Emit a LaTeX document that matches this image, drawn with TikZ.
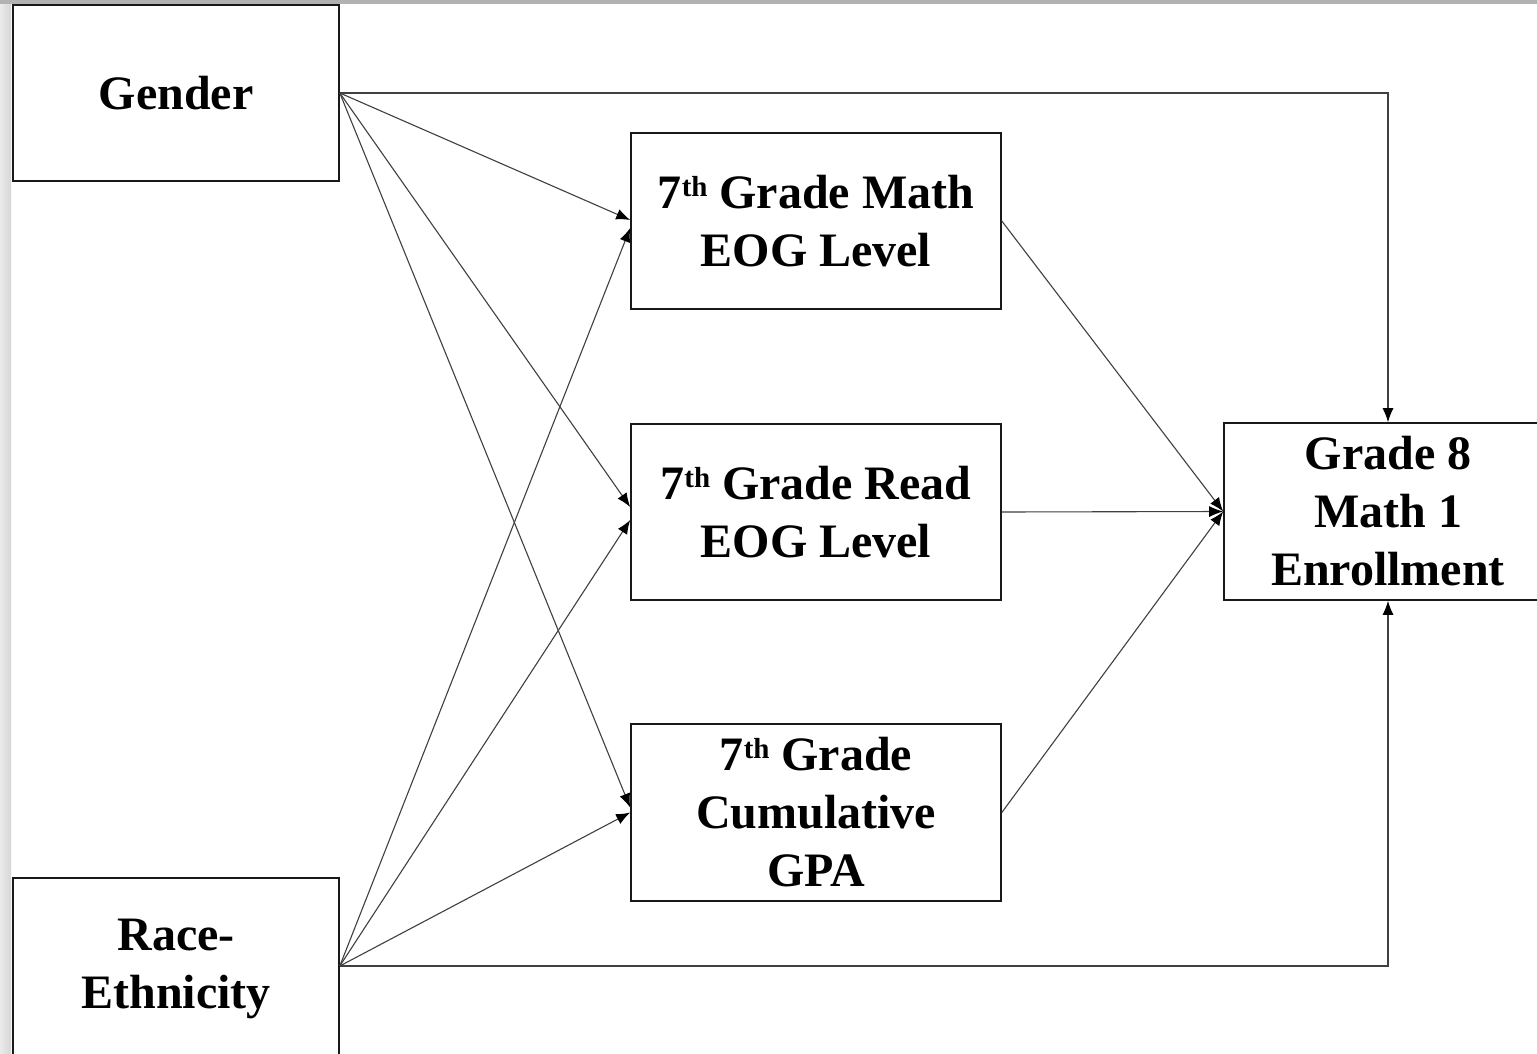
\documentclass[tikz,border=0pt]{standalone}
\usepackage{fontspec}
\setmainfont{Liberation Serif}
\usetikzlibrary{arrows.meta}
% raised ordinal suffix
\newcommand\ordsuf[1]{\raisebox{12pt}{\fontsize{29}{29}\selectfont #1}}
\begin{document}
\begin{tikzpicture}[x=1pt,y=-1pt,
  box/.style={draw=black!90,line width=1.6pt,fill=white,inner sep=0pt,
    align=center,font=\bfseries\fontsize{48}{58}\selectfont},
  path/.style={draw=black!75,line width=1.1pt,
    -{Latex[length=14pt,width=11pt,fill=black,color=black]}}]
\useasboundingbox (0,0) rectangle (1537,1054);
% window frame
\fill[white] (0,0) rectangle (1537,1054);
\shade[left color=black!8,right color=black!16] (0,0) rectangle (11,1054);
\fill[black!30] (0,0) rectangle (1537,4);

% exogenous variables
\node[box,minimum width=326pt,minimum height=176pt] (G) at (176,93) {Gender};
\node[box,minimum width=326pt,minimum height=182pt] (R) at (176,969) {Race-\\Ethnicity};

% mediators
\node[box,minimum width=370pt,minimum height=176pt] (M) at (816,221)
  {7\ordsuf{th} Grade Math\\EOG Level};
\node[box,minimum width=370pt,minimum height=176pt] (D) at (816,512)
  {7\ordsuf{th} Grade Read\\EOG Level};
\node[box,minimum width=370pt,minimum height=177pt] (P) at (816,812.5)
  {7\ordsuf{th} Grade\\Cumulative\\GPA};

% outcome
\node[box,minimum width=328pt,minimum height=177pt] (E) at (1388,511.5)
  {Grade 8\\Math 1\\Enrollment};

% paths from Gender
\draw[path] (G.east) -- ([yshift=1pt]M.west);
\draw[path] (G.east) -- ([yshift=5pt]D.west);
\draw[path] (G.east) -- ([yshift=5pt]P.west);
\draw[path] (G.east) -| (E.north);

% paths from Race-Ethnicity
\draw[path] ([yshift=3pt]R.east) -- ([yshift=-7pt]M.west);
\draw[path] ([yshift=3pt]R.east) -- ([yshift=-8pt]D.west);
\draw[path] ([yshift=3pt]R.east) -- (P.west);
\draw[path] ([yshift=3pt]R.east) -| (E.south);

% paths from mediators to the outcome
\draw[path] (M.east) -- (E.west);
\draw[path] (D.east) -- (E.west);
\draw[path] (P.east) -- (E.west);
\end{tikzpicture}
\end{document}
